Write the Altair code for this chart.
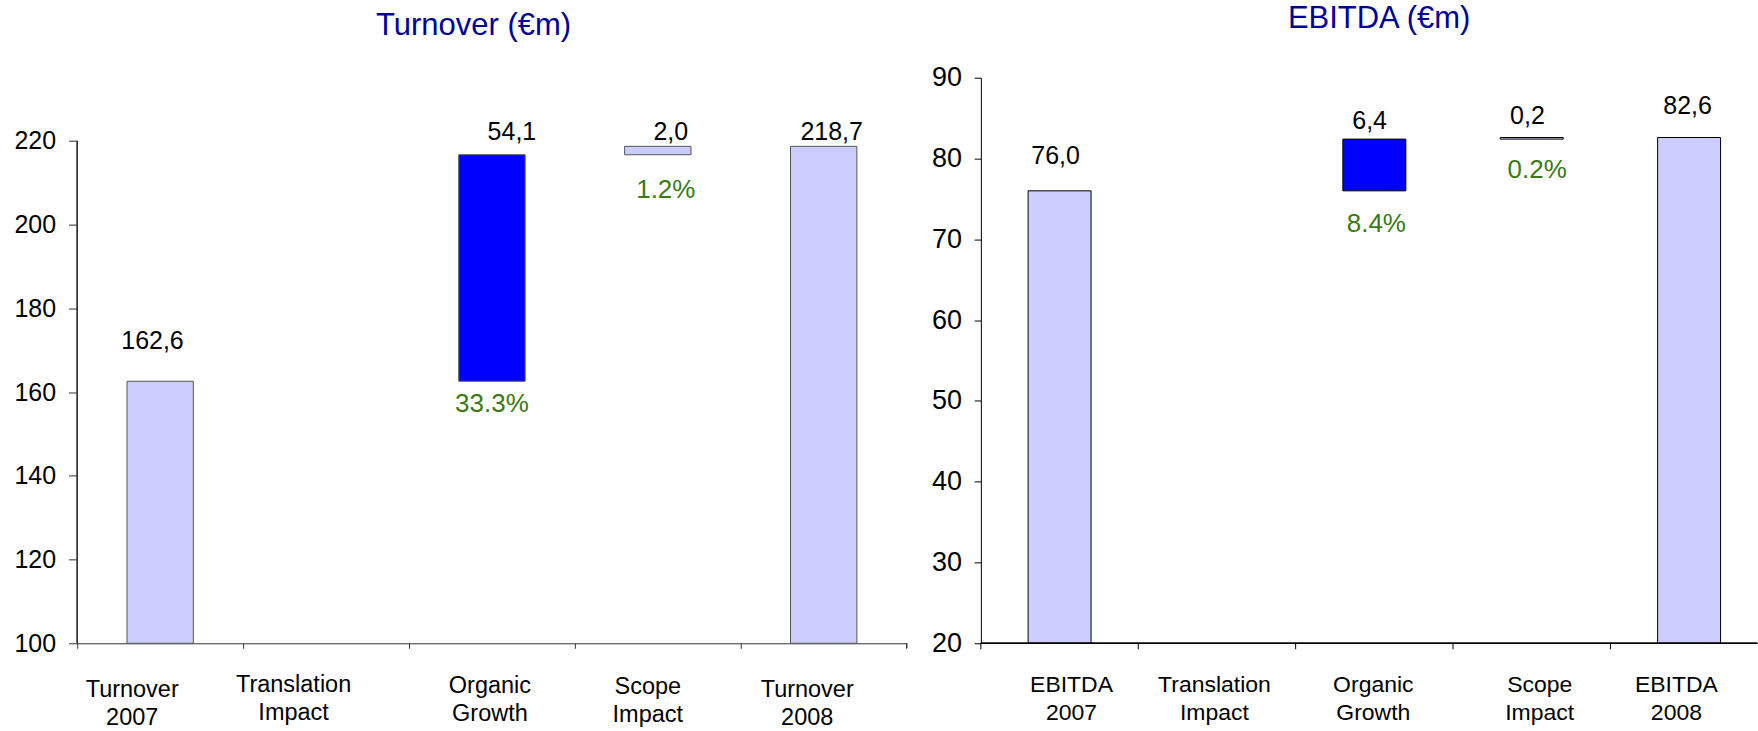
import altair as alt
import pandas as pd

# ---- Turnover bridge, 2007 -> 2008 (EUR m) ----
t_steps = ["Turnover 2007", "Translation Impact", "Organic Growth", "Scope Impact", "Turnover 2008"]
t_values = [162.6, None, 54.1, 2.0, 218.7]
t_growth = [None, None, 33.3, 1.2, None]
t_ticks = [100, 120, 140, 160, 180, 200, 220]

# ---- EBITDA bridge, 2007 -> 2008 (EUR m) ----
e_steps = ["EBITDA 2007", "Translation Impact", "Organic Growth", "Scope Impact", "EBITDA 2008"]
e_values = [76.0, None, 6.4, 0.2, 82.6]
e_growth = [None, None, 8.4, 0.2, None]
e_ticks = [20, 30, 40, 50, 60, 70, 80, 90]

SANS = "Liberation Sans, Arial, Helvetica, sans-serif"
LIGHT = "#CCCCFF"
BLUE = "#0000FF"
GREEN = "#3A7A14"
TITLE_BLUE = "#000099"
PLOT_H = 566


def bridge(steps, values, growth, floor):
    """Start/end of every bridge bar: totals rise from the axis floor, deltas float."""
    rows = []
    running = 0.0
    last = len(steps) - 1
    for i, (step, v, g) in enumerate(zip(steps, values, growth)):
        if v is None:
            continue
        if i in (0, last):
            start, end = floor, v
            running = v
        else:
            start, end = running, running + v
            running = end
        rows.append(
            dict(
                step=step,
                start=start,
                end=end,
                value=f"{v:.1f}".replace(".", ","),
                growth="" if g is None else f"{g:.1f}%",
            )
        )
    return pd.DataFrame(rows)


def cond(mapping, default):
    return {
        "condition": [{"test": f"datum.value == '{k}'", "value": v} for k, v in mapping.items()],
        "value": default,
    }


def panel(df, x_scale, x_axis, y_scale, y_axis, stroke,
          value_offsets, growth_offsets, value_size):
    x_enc = alt.X("step:N", scale=x_scale, axis=x_axis, title=None)

    bars = alt.Chart(df).mark_bar(
        width=alt.RelativeBandSize(0.4), stroke=stroke, strokeWidth=1
    ).encode(
        x=x_enc,
        y=alt.Y("start:Q", scale=y_scale, axis=y_axis, title=None),
        y2="end:Q",
        color=alt.condition(
            "datum.step == 'Organic Growth'", alt.value(BLUE), alt.value(LIGHT)
        ),
    )

    layers = [bars]
    for step, (dx, dy) in value_offsets.items():
        layers.append(
            alt.Chart(df).transform_filter(alt.datum.step == step).mark_text(
                dx=dx, dy=dy, baseline="alphabetic", align="center",
                font=SANS, fontSize=value_size, color="#000000",
            ).encode(
                x=x_enc,
                y=alt.Y("end:Q", scale=y_scale, axis=y_axis, title=None),
                text="value:N",
            )
        )
    for step, (dx, dy) in growth_offsets.items():
        layers.append(
            alt.Chart(df).transform_filter(alt.datum.step == step).mark_text(
                dx=dx, dy=dy, baseline="alphabetic", align="center",
                font=SANS, fontSize=26, color=GREEN,
            ).encode(
                x=x_enc,
                y=alt.Y("start:Q", scale=y_scale, axis=y_axis, title=None),
                text="growth:N",
            )
        )
    return layers


# ---------------- Turnover panel ----------------
t_df = bridge(t_steps, t_values, t_growth, 100)
T_W = 830
t_xscale = alt.Scale(domain=t_steps, range=[0, T_W], paddingInner=0, paddingOuter=0)
t_yscale = alt.Scale(domain=[100, 235.1], nice=False, zero=False)
t_yaxis = alt.Axis(
    values=t_ticks, format="d", domain=False, grid=False,
    tickSize=8.7, tickColor="#333333", labelPadding=13,
    labelFont=SANS, labelFontSize=25, labelColor="#000000",
)
t_xaxis = alt.Axis(
    bandPosition=0, labelAngle=0, labelAlign="center", labelOverlap=False,
    labelExpr="split(datum.label, ' ')", labelFont=SANS, labelFontSize=23.5,
    labelLineHeight=28, labelColor="#000000", tickSize=5,
    tickColor="#333333", domainColor="#333333", grid=False,
    labelOffset=cond({"Turnover 2007": -28, "Translation Impact": -32.5,
                      "Organic Growth": -2, "Scope Impact": -10}, -16.5),
    labelPadding=cond({"Translation Impact": 24, "Organic Growth": 25,
                       "Scope Impact": 26}, 29),
)
t_layers = panel(
    t_df, t_xscale, t_xaxis, t_yscale, t_yaxis, "#555555",
    {"Turnover 2007": (-7.7, -32), "Organic Growth": (20, -14.4),
     "Scope Impact": (13, -6), "Turnover 2008": (8, -6)},
    {"Organic Growth": (0, 30.7), "Scope Impact": (8, 43)},
    25,
)
# left axis line runs only over the labelled range
t_layers.append(
    alt.Chart(t_df).mark_rule(color="#333333", strokeWidth=1).encode(
        x=alt.value(0),
        y=alt.Y(datum=100, type="quantitative", scale=t_yscale, axis=t_yaxis, title=None),
        y2=alt.datum(220),
    )
)
# closing tick at the right end of the category axis
t_layers.append(
    alt.Chart(t_df).mark_rule(color="#333333", strokeWidth=1).encode(
        x=alt.value(T_W), y=alt.value(PLOT_H), y2=alt.value(PLOT_H + 5)
    )
)
turnover = alt.layer(*t_layers).properties(
    width=T_W,
    height=PLOT_H,
    title=alt.TitleParams(
        "Turnover (€m)", font=SANS, fontSize=31, fontWeight="normal",
        color=TITLE_BLUE, baseline="alphabetic", anchor="middle",
        offset=12.1, dx=-18.4,
    ),
)

# ---------------- EBITDA panel ----------------
# the category axis runs on past the panel edge, so its ticks and
# labels are drawn as marks that stay inside the visible width
e_df = bridge(e_steps, e_values, e_growth, 20)
e_cat = pd.DataFrame({"step": e_steps})
E_W = 777
e_xscale = alt.Scale(domain=e_steps, range=[0, 787.5], paddingInner=0, paddingOuter=0)
e_yscale = alt.Scale(domain=[20, 90], nice=False, zero=False)
e_yaxis = alt.Axis(
    values=e_ticks, format="d", domain=True, grid=False,
    domainColor="#000000", tickColor="#000000", tickSize=6.7,
    labelPadding=12.6, labelFont=SANS, labelFontSize=27, labelColor="#000000",
)
e_layers = panel(
    e_df, e_xscale, None, e_yscale, e_yaxis, "#000000",
    {"EBITDA 2007": (-4, -27.3), "Organic Growth": (-4.7, -10),
     "Scope Impact": (-4.3, -14), "EBITDA 2008": (-1.5, -23.3)},
    {"Organic Growth": (2, 41), "Scope Impact": (5.5, 38.8)},
    25,
)
# category axis baseline, running to the panel edge
e_layers.append(
    alt.Chart(e_cat).mark_rule(color="#000000", strokeWidth=1).encode(
        x=alt.value(0), x2=alt.value(E_W), y=alt.value(PLOT_H)
    )
)
# ticks on the band boundaries
e_layers.append(
    alt.Chart(e_cat).mark_rule(color="#000000", strokeWidth=1).encode(
        x=alt.X("step:N", scale=e_xscale, axis=None, bandPosition=0),
        y=alt.value(PLOT_H),
        y2=alt.value(PLOT_H + 6),
    )
)
# two-line category labels
e_label_dx = {"EBITDA 2007": 12, "Translation Impact": -2.5,
              "Organic Growth": -1, "Scope Impact": 8, "EBITDA 2008": -12.7}
for step, dx in e_label_dx.items():
    e_layers.append(
        alt.Chart(e_cat).transform_filter(alt.datum.step == step).mark_text(
            dx=dx, dy=48.3, baseline="alphabetic", align="center",
            font=SANS, fontSize=23, lineHeight=28, lineBreak=" ", color="#000000",
        ).encode(
            x=alt.X("step:N", scale=e_xscale, axis=None),
            y=alt.value(PLOT_H),
            text="step:N",
        )
    )
ebitda = alt.layer(*e_layers).properties(
    width=E_W,
    height=PLOT_H,
    title=alt.TitleParams(
        "EBITDA (€m)", font=SANS, fontSize=31, fontWeight="normal",
        color=TITLE_BLUE, baseline="alphabetic", anchor="middle",
        offset=4.6, dx=10,
    ),
)

chart = (
    alt.hconcat(turnover, ebitda, spacing=74.3, bounds="flush")
    .properties(padding={"left": 13.3, "top": 2.5, "right": 0, "bottom": 0},
                background="#FFFFFF")
    .configure_view(strokeWidth=0)
)

chart.save("out.html", embed_options={"renderer": "svg", "actions": False})
